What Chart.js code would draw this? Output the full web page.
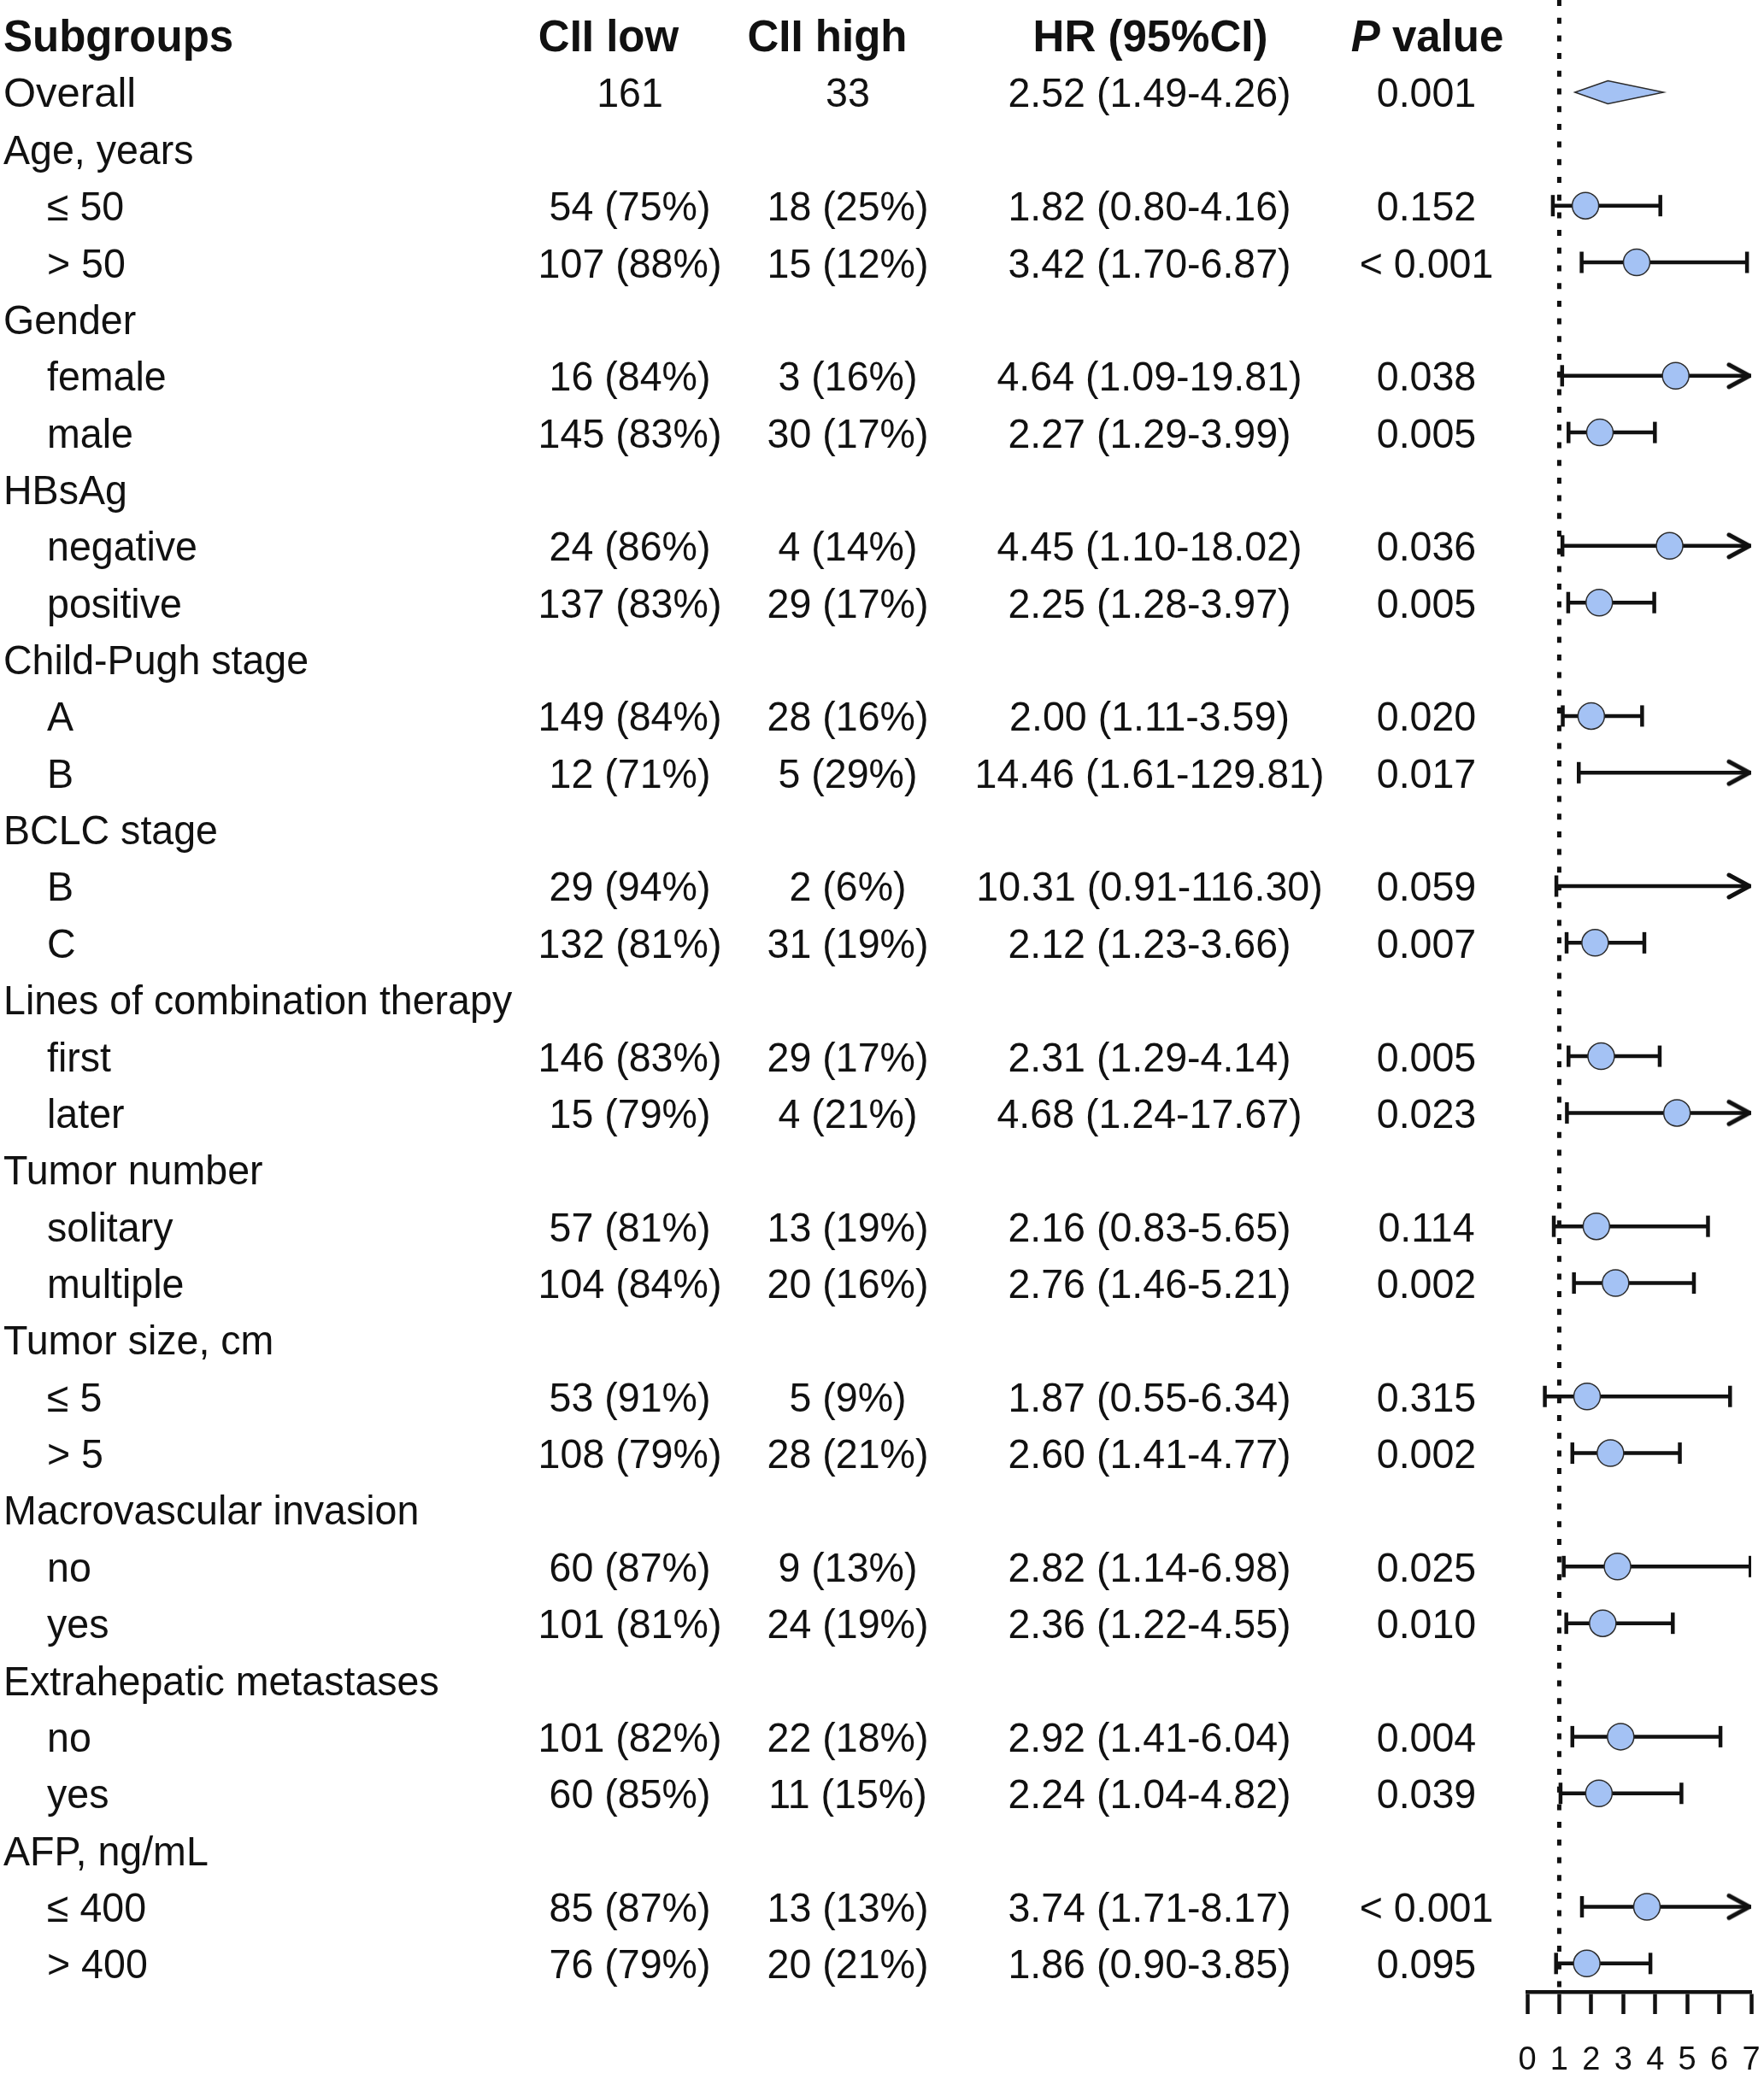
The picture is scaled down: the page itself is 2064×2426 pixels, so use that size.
<!DOCTYPE html>
<html lang="en">
<head>
    <meta charset="UTF-8">
    <title>Subgroup analysis - CII low vs CII high</title>
    <script src="https://cdn.jsdelivr.net/npm/chart.js"></script>
    <style>
        html, body { margin: 0; padding: 0; background: #fff; }
        #wrap { width: 2064px; height: 2426px; }
        canvas { display: block; }
    </style>
</head>
<body>
<div id="wrap"><canvas id="forest" width="2064" height="2426"></canvas></div>
<script>
// table rows, top to bottom (group headers have no numbers)
const subgroups = ["Overall", "Age, years", "≤ 50", "> 50", "Gender", "female", "male",
    "HBsAg", "negative", "positive", "Child-Pugh stage", "A", "B", "BCLC stage", "B", "C",
    "Lines of combination therapy", "first", "later", "Tumor number", "solitary", "multiple",
    "Tumor size, cm", "≤ 5", "> 5", "Macrovascular invasion", "no", "yes",
    "Extrahepatic metastases", "no", "yes", "AFP, ng/mL", "≤ 400", "> 400"];
const ciiLow = ["161", "", "54 (75%)", "107 (88%)", "", "16 (84%)", "145 (83%)",
    "", "24 (86%)", "137 (83%)", "", "149 (84%)", "12 (71%)", "", "29 (94%)", "132 (81%)",
    "", "146 (83%)", "15 (79%)", "", "57 (81%)", "104 (84%)",
    "", "53 (91%)", "108 (79%)", "", "60 (87%)", "101 (81%)",
    "", "101 (82%)", "60 (85%)", "", "85 (87%)", "76 (79%)"];
const ciiHigh = ["33", "", "18 (25%)", "15 (12%)", "", "3 (16%)", "30 (17%)",
    "", "4 (14%)", "29 (17%)", "", "28 (16%)", "5 (29%)", "", "2 (6%)", "31 (19%)",
    "", "29 (17%)", "4 (21%)", "", "13 (19%)", "20 (16%)",
    "", "5 (9%)", "28 (21%)", "", "9 (13%)", "24 (19%)",
    "", "22 (18%)", "11 (15%)", "", "13 (13%)", "20 (21%)"];
const pValues = ["0.001", "", "0.152", "< 0.001", "", "0.038", "0.005",
    "", "0.036", "0.005", "", "0.020", "0.017", "", "0.059", "0.007",
    "", "0.005", "0.023", "", "0.114", "0.002",
    "", "0.315", "0.002", "", "0.025", "0.010",
    "", "0.004", "0.039", "", "< 0.001", "0.095"];
// hazard ratios and 95% CI (null = group header)
const hr = [2.52, null, 1.82, 3.42, null, 4.64, 2.27, null, 4.45, 2.25, null, 2.00, 14.46, null, 10.31, 2.12,
    null, 2.31, 4.68, null, 2.16, 2.76, null, 1.87, 2.60, null, 2.82, 2.36, null, 2.92, 2.24, null, 3.74, 1.86];
const ciLow = [1.49, null, 0.80, 1.70, null, 1.09, 1.29, null, 1.10, 1.28, null, 1.11, 1.61, null, 0.91, 1.23,
    null, 1.29, 1.24, null, 0.83, 1.46, null, 0.55, 1.41, null, 1.14, 1.22, null, 1.41, 1.04, null, 1.71, 0.90];
const ciHigh = [4.26, null, 4.16, 6.87, null, 19.81, 3.99, null, 18.02, 3.97, null, 3.59, 129.81, null, 116.30, 3.66,
    null, 4.14, 17.67, null, 5.65, 5.21, null, 6.34, 4.77, null, 6.98, 4.55, null, 6.04, 4.82, null, 8.17, 3.85];
const headers = ["Subgroups", "CII low", "CII high", "HR (95%CI)", "P value"];
const xMin = 0, xMax = 7;

const fmt = v => v.toFixed(2);
const hrText = hr.map((v, i) => v === null ? "" : fmt(v) + " (" + fmt(ciLow[i]) + "-" + fmt(ciHigh[i]) + ")");

const FONT = "'Liberation Sans', Arial, Helvetica, sans-serif";
const INK = "#111";
const BLUE = "#a4c2f4";
const Y_MIN = -0.627, Y_MAX = 34.5;

// open arrow head used when the CI runs past the axis
const arrow = document.createElement("canvas");
arrow.width = 60; arrow.height = 34;
(function () {
    const c = arrow.getContext("2d");
    c.strokeStyle = INK; c.lineWidth = 5; c.lineCap = "round"; c.lineJoin = "round";
    c.beginPath();
    c.moveTo(4, 4); c.lineTo(28, 17); c.lineTo(4, 30);
    c.stroke();
})();

const datasets = [];

// hazard ratio points (overall drawn as diamond)
datasets.push({
    type: "scatter",
    data: hr.map((v, i) => ({ x: v, y: i + 1 })).filter((p, i) => i > 0 && p.x !== null && p.x <= xMax),
    backgroundColor: BLUE,
    borderColor: "#2b2b2b",
    borderWidth: 1.5,
    pointRadius: 15.5,
    order: 0
});

// confidence intervals
hr.forEach((v, i) => {
    if (v === null || i === 0) return;
    const over = ciHigh[i] > xMax;
    datasets.push({
        type: "line",
        data: [{ x: ciLow[i], y: i + 1 }, { x: over ? xMax : ciHigh[i], y: i + 1 }],
        borderColor: INK,
        borderWidth: 4.5,
        pointStyle: ["line", over ? arrow : "line"],
        pointRotation: [90, over ? 0 : 90],
        pointRadius: 12.5,
        pointBorderWidth: 4.5,
        pointBorderColor: INK,
        order: 1
    });
});

// reference line at HR = 1
datasets.push({
    type: "line",
    data: [{ x: 1, y: Y_MIN }, { x: 1, y: Y_MAX }],
    borderColor: INK,
    borderWidth: 5,
    borderDash: [7, 13.7],
    pointRadius: 0,
    order: 2
});

// diamond for the overall estimate
const diamondPlugin = {
    id: "diamond",
    afterDatasetsDraw(chart) {
        const x = chart.scales.x, y = chart.scales.y;
        const cy = y.getPixelForValue(1);
        const ctx = chart.ctx;
        ctx.save();
        ctx.beginPath();
        ctx.moveTo(x.getPixelForValue(ciLow[0]), cy);
        ctx.lineTo(x.getPixelForValue(hr[0]), cy - 13.5);
        ctx.lineTo(x.getPixelForValue(ciHigh[0]), cy);
        ctx.lineTo(x.getPixelForValue(hr[0]), cy + 13.5);
        ctx.closePath();
        ctx.fillStyle = BLUE;
        ctx.fill();
        ctx.lineWidth = 1.5;
        ctx.strokeStyle = "#2b2b2b";
        ctx.stroke();
        ctx.restore();
    }
};

// text, slightly condensed like the original typeface
function put(ctx, text, x, y, align, squeeze) {
    if (!text) return;
    ctx.textAlign = align;
    const w = ctx.measureText(text).width;
    ctx.fillText(text, x, y, w * squeeze);
}

// text columns of the table
const tablePlugin = {
    id: "table",
    afterDraw(chart) {
        const ctx = chart.ctx, y = chart.scales.y;
        ctx.save();
        ctx.fillStyle = INK;
        ctx.textBaseline = "alphabetic";

        // header
        const hy = y.getPixelForValue(0) + 18;
        ctx.font = "bold 51px " + FONT;
        put(ctx, headers[0], 4, hy, "left", 1);
        put(ctx, headers[1], 712, hy, "center", 1);
        put(ctx, headers[2], 968, hy, "center", 1);
        put(ctx, headers[3], 1346, hy, "center", 1);
        // "P" in italics
        ctx.font = "italic bold 51px " + FONT;
        const wP = ctx.measureText("P").width;
        ctx.font = "bold 51px " + FONT;
        const wRest = ctx.measureText(" value").width;
        const px = 1670 - (wP + wRest) / 2;
        ctx.font = "italic bold 51px " + FONT;
        put(ctx, "P", px, hy, "left", 1);
        ctx.font = "bold 51px " + FONT;
        put(ctx, " value", px + wP, hy, "left", 1);

        ctx.font = "49px " + FONT;
        const sq = 0.95;
        subgroups.forEach((label, i) => {
            const ry = y.getPixelForValue(i + 1) + 17.5;
            const indent = i > 0 && hr[i] !== null;
            put(ctx, label, indent ? 55 : 4, ry, "left", i === 0 ? 1 : sq);
            put(ctx, ciiLow[i], 737, ry, "center", sq);
            put(ctx, ciiHigh[i], 992, ry, "center", sq);
            put(ctx, hrText[i], 1345, ry, "center", sq);
            put(ctx, pValues[i], 1669, ry, "center", sq);
        });
        ctx.restore();
    }
};

new Chart(document.getElementById("forest"), {
    data: { datasets: datasets },
    options: {
        responsive: false,
        devicePixelRatio: 1,
        animation: false,
        layout: { autoPadding: false, padding: { left: 1787, right: 15, top: 0, bottom: 0 } },
        plugins: { legend: { display: false }, tooltip: { enabled: false } },
        scales: {
            x: {
                type: "linear",
                min: xMin,
                max: xMax,
                // fixed axis band; labels fit inside the layout padding
                afterFit: s => { s.height = 95; s.paddingLeft = 0; s.paddingRight = 0; },
                ticks: { stepSize: 1, color: INK, padding: 32, font: { size: 38, family: FONT } },
                grid: { drawOnChartArea: false, drawTicks: true, tickLength: 26, tickWidth: 4.5, tickColor: INK },
                border: { display: true, color: INK, width: 4.5 }
            },
            y: {
                type: "linear",
                reverse: true,
                min: Y_MIN,
                max: Y_MAX,
                display: false
            }
        }
    },
    plugins: [diamondPlugin, tablePlugin]
});
</script>
</body>
</html>
